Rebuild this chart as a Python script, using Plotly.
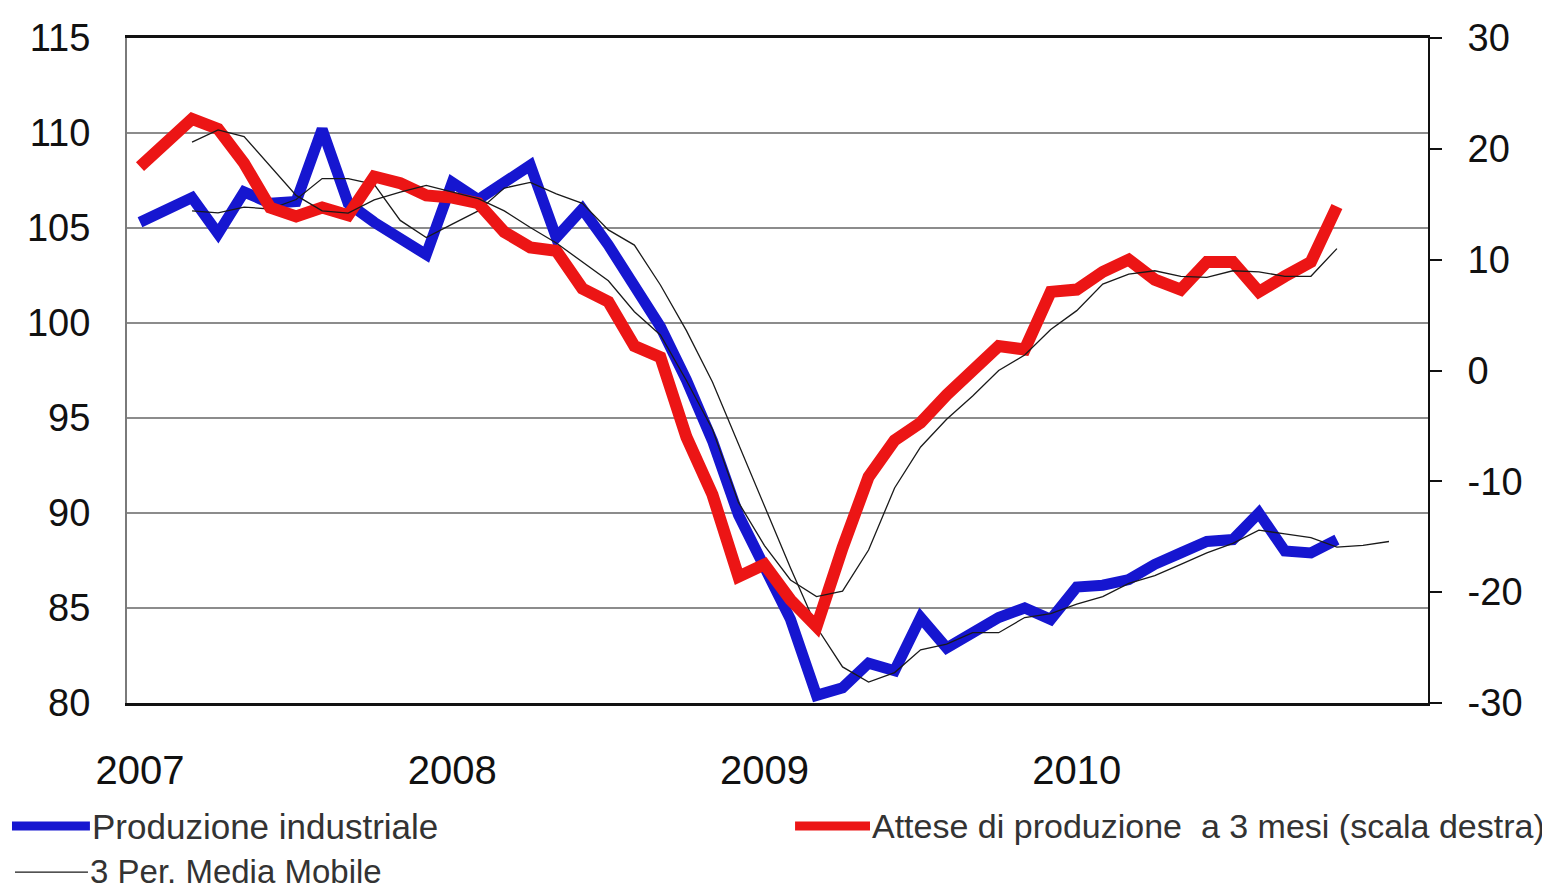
import plotly.graph_objects as go

# asse a categorie mensili: gen 2007 - feb 2011
mesi = [f"{a}-{m:02d}" for a in range(2007, 2011) for m in range(1, 13)] + ["2011-01", "2011-02"]
anni_tick = ["2007-01", "2008-01", "2009-01", "2010-01"]
anni_label = ["2007", "2008", "2009", "2010"]

destra_tick = [-30, -20, -10, 0, 10, 20, 30]
destra_label = ["-30", "-20", "-10", "0", "10", "20", "30"]

# Produzione industriale (scala sinistra), gen 2007 - nov 2010
produzione = [
    105.3, 105.9, 106.6, 104.7, 106.9, 106.3, 106.4, 110.2, 106.3, 105.3,
    104.5, 103.6, 107.4, 106.5, 107.4, 108.3, 104.5, 106.0, 104.1, 102.0,
    99.8, 97.0, 93.8, 89.9, 87.0, 84.4, 80.4, 80.8, 82.1, 81.7,
    84.5, 82.9, 83.7, 84.5, 85.0, 84.4, 86.1, 86.2, 86.5, 87.3,
    87.9, 88.5, 88.6, 90.0, 88.0, 87.9, 88.6,
]

# Attese di produzione a 3 mesi (scala destra)
attese = [
    18.4, 20.6, 22.7, 21.8, 18.7, 14.7, 13.9, 14.7, 14.0, 17.5,
    16.9, 15.8, 15.6, 15.1, 12.5, 11.1, 10.8, 7.4, 6.2, 2.2,
    1.2, -6.0, -11.2, -18.6, -17.5, -20.7, -23.1, -16.0, -9.6, -6.3,
    -4.7, -2.2, 0.0, 2.2, 1.9, 7.1, 7.3, 8.9, 10.0, 8.2,
    7.3, 9.8, 9.8, 7.1, 8.5, 9.8, 14.8,
]

# 3 Per. Media Mobile
media_prod = [
    None, None,
    105.9, 105.8, 106.1, 106.0, 106.5, 107.6, 107.6, 107.3, 105.4, 104.5,
    105.2, 105.9, 107.1, 107.4, 106.8, 106.3, 104.9, 104.1, 102.0, 99.6,
    96.9, 93.6, 90.3, 87.1, 84.0, 81.9, 81.1, 81.6, 82.8, 83.1,
    83.7, 83.7, 84.5, 84.7, 85.2, 85.6, 86.3, 86.7, 87.3, 87.9,
    88.4, 89.1, 88.9, 88.7, 88.2, 88.3, 88.5,
]
media_attese = [
    None, None,
    20.6, 21.7, 21.1, 18.4, 15.8, 14.4, 14.2, 15.4, 16.1, 16.7,
    16.1, 15.5, 14.4, 12.9, 11.5, 9.8, 8.1, 5.3, 3.2, -0.9,
    -5.3, -11.9, -15.8, -18.9, -20.4, -19.9, -16.2, -10.6, -6.9, -4.4,
    -2.3, 0.0, 1.4, 3.7, 5.4, 7.8, 8.7, 9.0, 8.5, 8.4,
    9.0, 8.9, 8.5, 8.5, 11.0,
]

FONT = "Liberation Sans, Arial, sans-serif"
BLU = "#1616d0"
ROSSO = "#ec1515"
NERO = "#1a1a1a"

fig = go.Figure()

fig.add_trace(go.Scatter(
    x=mesi[:len(produzione)], y=produzione, mode="lines",
    name="Produzione industriale", showlegend=False,
    line=dict(color=BLU, width=11),
))
fig.add_trace(go.Scatter(
    x=mesi[:len(attese)], y=attese, mode="lines", yaxis="y2",
    name="Attese di produzione  a 3 mesi (scala destra)", showlegend=False,
    line=dict(color=ROSSO, width=12),
))
fig.add_trace(go.Scatter(
    x=mesi[:len(media_prod)], y=media_prod, mode="lines",
    name="3 Per. Media Mobile", showlegend=False,
    line=dict(color=NERO, width=1.3),
))
fig.add_trace(go.Scatter(
    x=mesi[:len(media_attese)], y=media_attese, mode="lines", yaxis="y2",
    name="3 Per. Media Mobile", showlegend=False,
    line=dict(color=NERO, width=1.3),
))

# legenda disegnata a mano sotto il grafico (la legenda nativa sposta i margini)
voci = [
    # (x linea inizio, x linea fine, y, ancoraggio, colore, spessore, font, testo)
    (-0.0884, -0.0285, -0.185, "middle", BLU, 9, 35, "Produzione industriale"),
    (0.5135, 0.5711, -0.185, "middle", ROSSO, 9, 34, "Attese di produzione  a 3 mesi (scala destra)"),
    (-0.0861, -0.0300, -0.2842, "bottom", NERO, 1.3, 33, "3 Per. Media Mobile"),
]
for x0, x1, y, ya, col, w, fs, testo in voci:
    yl = y + 0.03 if ya == "bottom" else y
    fig.add_shape(type="line", xref="paper", yref="paper",
                  x0=x0, x1=x1, y0=yl, y1=yl, line=dict(color=col, width=w))
    fig.add_annotation(xref="paper", yref="paper", x=x1, y=y,
                       xanchor="left", yanchor=ya, showarrow=False,
                       text=testo, font=dict(family=FONT, size=fs, color="#333333"))

# la pagina ha un margine di 8 px: figura ridotta di 8 px
fig.update_layout(
    width=1542,
    height=885,
    margin=dict(l=119, r=122, t=30, b=190),
    paper_bgcolor="white",
    plot_bgcolor="white",
    showlegend=False,
    font=dict(family=FONT, color="#111111"),
    xaxis=dict(
        type="category",
        categoryorder="array",
        categoryarray=mesi,
        range=[-0.5, len(mesi) - 0.5],
        tickmode="array",
        tickvals=anni_tick,
        ticktext=anni_label,
        tickfont=dict(size=40),
        ticklabelstandoff=30,
        ticks="",
        showgrid=False,
        showline=True,
        mirror=True,
        linecolor="#111111",
        linewidth=2.5,
        zeroline=False,
        automargin=False,
    ),
    yaxis=dict(
        range=[80, 115],
        dtick=5,
        tickfont=dict(size=38),
        ticklabelstandoff=27,
        ticks="",
        showgrid=True,
        gridcolor="#8c8c8c",
        gridwidth=1.6,
        showline=True,
        linecolor="#7a7a7a",
        linewidth=2,
        zeroline=False,
        automargin=False,
    ),
    yaxis2=dict(
        overlaying="y",
        side="right",
        range=[-30, 30],
        tickmode="array",
        tickvals=destra_tick,
        ticktext=destra_label,
        tickfont=dict(size=38),
        ticks="outside",
        ticklen=12,
        tickwidth=2,
        tickcolor="#111111",
        ticklabelstandoff=18,
        showgrid=False,
        showline=True,
        linecolor="#111111",
        linewidth=2,
        zeroline=False,
        automargin=False,
    ),
)

fig.write_html("out.html")
